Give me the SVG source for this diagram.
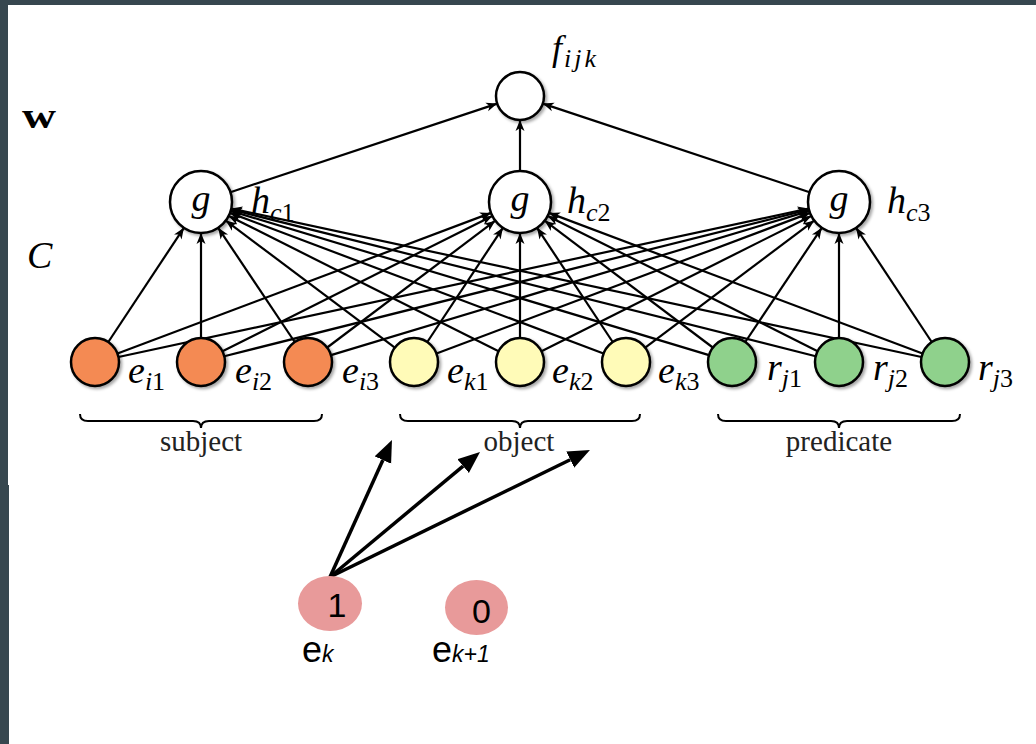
<svg xmlns="http://www.w3.org/2000/svg" width="1036" height="744" viewBox="0 0 1036 744">
<style>
.m{font-family:"Liberation Serif","DejaVu Serif",serif;font-style:italic;font-size:38px;fill:#000}
.sub{font-size:26px}
.up{font-style:normal}
.lab{font-family:"Liberation Serif","DejaVu Serif",serif;font-size:29px;fill:#222;text-anchor:middle}
.node{stroke:#000;stroke-width:2.5;filter:url(#sh)}
.w{fill:#fff}
.o{fill:#f48a52}
.y{fill:#fffbb8}
.gr{fill:#8fd18c}
.edges line{stroke:#000;stroke-width:2.2;marker-end:url(#ah)}
.big line{stroke:#000;stroke-width:3.5;marker-end:url(#bh)}
.brace{fill:none;stroke:#000;stroke-width:2}
.pk{fill:#e89a9a}
.sans{font-family:"Liberation Sans",Arial,sans-serif;fill:#000}
</style>
<defs>
<filter id="sh" x="-30%" y="-30%" width="160%" height="160%">
<feDropShadow dx="2" dy="2" stdDeviation="1.5" flood-color="#000" flood-opacity="0.35"/>
</filter>
<marker id="ah" markerUnits="userSpaceOnUse" markerWidth="14" markerHeight="12" refX="12" refY="6" orient="auto">
<path d="M12,6 L1,1.5 L4,6 L1,10.5 Z" fill="#000"/>
</marker>
<marker id="bh" markerUnits="userSpaceOnUse" markerWidth="24" markerHeight="20" refX="0" refY="9" orient="auto">
<path d="M0,0 L22,9 L0,18 Z" fill="#000"/>
</marker>
</defs>
<rect x="0" y="0" width="1036" height="744" fill="#37474f"/>
<rect x="8" y="5" width="1028" height="739" fill="#fff"/>
<rect x="8" y="485" width="1" height="259" fill="#37474f"/>

<g id="connectors">
<g class="edges">
<line x1="230.4" y1="192.2" x2="497.2" y2="103.6"/>
<line x1="520" y1="171" x2="520" y2="120"/>
<line x1="809.6" y1="192.2" x2="542.8" y2="103.6"/>

<line x1="108.3" y1="342" x2="183.9" y2="227.8"/>
<line x1="201" y1="338" x2="201" y2="233"/>
<line x1="294.7" y1="342" x2="218.2" y2="227.8"/>
<line x1="394.8" y1="347.6" x2="225.8" y2="220.6"/>
<line x1="498.6" y1="351.2" x2="228.7" y2="215.9"/>
<line x1="603.5" y1="353.5" x2="230" y2="212.9"/>
<line x1="709" y1="355.1" x2="230.7" y2="210.9"/>
<line x1="815.7" y1="356.2" x2="231.1" y2="209.5"/>
<line x1="921.5" y1="357" x2="231.3" y2="208.5"/>

<line x1="117.5" y1="353.5" x2="491" y2="212.9"/>
<line x1="222.5" y1="351.2" x2="492.3" y2="215.9"/>
<line x1="327.2" y1="347.5" x2="495.3" y2="220.7"/>
<line x1="427.3" y1="342" x2="502.9" y2="227.8"/>
<line x1="520" y1="338" x2="520" y2="233"/>
<line x1="612.7" y1="342" x2="537.1" y2="227.8"/>
<line x1="712.8" y1="347.5" x2="544.7" y2="220.7"/>
<line x1="817.6" y1="351.2" x2="547.7" y2="215.9"/>
<line x1="922.5" y1="353.5" x2="549" y2="212.9"/>

<line x1="118.5" y1="357" x2="808.7" y2="208.5"/>
<line x1="224.3" y1="356.2" x2="808.9" y2="209.5"/>
<line x1="331" y1="355.1" x2="809.3" y2="210.9"/>
<line x1="436.5" y1="353.5" x2="810" y2="212.9"/>
<line x1="541.5" y1="351.2" x2="811.3" y2="215.9"/>
<line x1="645.2" y1="347.6" x2="814.2" y2="220.6"/>
<line x1="745.3" y1="342" x2="821.8" y2="227.8"/>
<line x1="839" y1="338" x2="839" y2="233"/>
<line x1="931.7" y1="342" x2="856.1" y2="227.8"/>
</g>
<g class="big">
<line x1="330" y1="577" x2="382.9" y2="460"/>
<line x1="330" y1="577" x2="463.1" y2="466.1"/>
<line x1="330" y1="577" x2="570.2" y2="459.7"/>
</g>
</g>

<g id="f">
<circle class="node w" cx="520" cy="96" r="24"/>
<text class="m" x="552" y="60" style="font-size:36px">f<tspan class="sub" dy="7" dx="2" style="letter-spacing:3px">ijk</tspan></text>
</g>
<text id="w" x="22" y="128" style="font-family:'Liberation Serif',serif;font-weight:bold;font-size:36px" textLength="34" lengthAdjust="spacingAndGlyphs">w</text>
<text id="C" class="m" x="27" y="268" style="font-size:38px">C</text>

<g id="g1">
<circle class="node w" cx="201" cy="202" r="31"/>
<text class="m" x="201" y="211" text-anchor="middle">g</text>
<text class="m" x="251" y="213">h<tspan class="sub" dy="8">c<tspan class="up">1</tspan></tspan></text>
</g>
<g id="g2">
<circle class="node w" cx="520" cy="202" r="31"/>
<text class="m" x="520" y="211" text-anchor="middle">g</text>
<text class="m" x="567" y="213">h<tspan class="sub" dy="8">c<tspan class="up">2</tspan></tspan></text>
</g>
<g id="g3">
<circle class="node w" cx="839" cy="202" r="31"/>
<text class="m" x="839" y="211" text-anchor="middle">g</text>
<text class="m" x="887" y="213">h<tspan class="sub" dy="8">c<tspan class="up">3</tspan></tspan></text>
</g>

<g id="ei1"><circle class="node o" cx="95" cy="362" r="24"/><text class="m" x="128" y="383">e<tspan class="sub" dy="7">i<tspan class="up">1</tspan></tspan></text></g>
<g id="ei2"><circle class="node o" cx="201" cy="362" r="24"/><text class="m" x="235" y="383">e<tspan class="sub" dy="7">i<tspan class="up">2</tspan></tspan></text></g>
<g id="ei3"><circle class="node o" cx="308" cy="362" r="24"/><text class="m" x="342" y="383">e<tspan class="sub" dy="7">i<tspan class="up">3</tspan></tspan></text></g>
<g id="ek1"><circle class="node y" cx="414" cy="362" r="24"/><text class="m" x="447" y="383">e<tspan class="sub" dy="7">k<tspan class="up">1</tspan></tspan></text></g>
<g id="ek2"><circle class="node y" cx="520" cy="362" r="24"/><text class="m" x="552" y="383">e<tspan class="sub" dy="7">k<tspan class="up">2</tspan></tspan></text></g>
<g id="ek3"><circle class="node y" cx="626" cy="362" r="24"/><text class="m" x="658" y="383">e<tspan class="sub" dy="7">k<tspan class="up">3</tspan></tspan></text></g>
<g id="rj1"><circle class="node gr" cx="732" cy="362" r="24"/><text class="m" x="767" y="380">r<tspan class="sub" dy="7">j<tspan class="up">1</tspan></tspan></text></g>
<g id="rj2"><circle class="node gr" cx="839" cy="362" r="24"/><text class="m" x="873" y="380">r<tspan class="sub" dy="7">j<tspan class="up">2</tspan></tspan></text></g>
<g id="rj3"><circle class="node gr" cx="945" cy="362" r="24"/><text class="m" x="978" y="380">r<tspan class="sub" dy="7">j<tspan class="up">3</tspan></tspan></text></g>

<g id="subject">
<path class="brace" d="M80,414 q0,7 8,7 H193 q8,0 8,7 q0,-7 8,-7 H314 q8,0 8,-7"/>
<text class="lab" x="201" y="451">subject</text>
</g>
<g id="object">
<path class="brace" d="M400,414 q0,7 8,7 H512 q8,0 8,7 q0,-7 8,-7 H632 q8,0 8,-7"/>
<text class="lab" x="519" y="451">object</text>
</g>
<g id="predicate">
<path class="brace" d="M718,414 q0,7 8,7 H831 q8,0 8,7 q0,-7 8,-7 H952 q8,0 8,-7"/>
<text class="lab" x="839" y="451">predicate</text>
</g>

<g id="ek">
<ellipse class="pk" cx="330" cy="603.5" rx="32" ry="27.5"/>
<text class="sans" x="337" y="617" text-anchor="middle" style="font-size:34px">1</text>
<text class="sans" x="302" y="662" style="font-size:36px">e<tspan style="font-style:italic;font-size:23px">k</tspan></text>
</g>
<g id="ek1b">
<ellipse class="pk" cx="476.5" cy="607.5" rx="31.5" ry="27.5"/>
<text class="sans" x="481.5" y="623" text-anchor="middle" style="font-size:34px">0</text>
<text class="sans" x="432" y="662" style="font-size:36px">e<tspan style="font-style:italic;font-size:23px">k+1</tspan></text>
</g>
</svg>
